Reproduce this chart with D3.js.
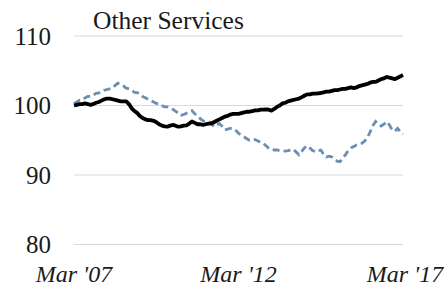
<!DOCTYPE html>
<meta charset="utf-8">
<html>
<body style="margin:0;background:#fff">

<script src="https://d3js.org/d3.v7.min.js"></script>
<script>
  // monthly index values, Mar 2007 .. Mar 2017
  var otherServices = [
    100.0, 100.1, 100.2, 100.2, 100.3, 100.2, 100.1, 100.2, 100.4, 100.5,
    100.7, 100.9, 101.0, 101.0, 100.9, 100.8, 100.7, 100.6, 100.6, 100.6,
    100.2, 99.6, 99.2, 98.9, 98.5, 98.2, 98.0, 97.9, 97.9, 97.8,
    97.6, 97.3, 97.1, 97.0, 96.95, 97.1, 97.2, 97.1, 96.95, 97.0,
    97.1, 97.15, 97.4, 97.7, 97.5, 97.3, 97.3, 97.2, 97.3, 97.4,
    97.4, 97.6, 97.8, 98.0, 98.2, 98.4, 98.5, 98.7, 98.8, 98.8,
    98.8, 98.9, 99.0, 99.1, 99.1, 99.2, 99.3, 99.3, 99.4, 99.4,
    99.45, 99.4, 99.25, 99.5, 99.8, 100.0, 100.3, 100.4, 100.6, 100.7,
    100.8, 100.9, 101.0, 101.2, 101.4, 101.6, 101.6, 101.7, 101.7, 101.75,
    101.8, 101.9, 102.0, 102.0, 102.1, 102.2, 102.2, 102.3, 102.4, 102.4,
    102.5, 102.6, 102.5, 102.6, 102.8, 102.9, 103.0, 103.1, 103.3, 103.4,
    103.4, 103.6, 103.8, 103.9, 104.1, 104.0, 103.9, 103.8, 104.0, 104.2,
    104.4
  ];
  var comparison = [
    100.3, 100.5, 100.75, 100.8, 101.1, 101.3, 101.3, 101.5, 101.75, 101.8,
    102.0, 102.2, 102.3, 102.4, 102.5, 102.9, 103.2, 103.0, 102.8, 102.5,
    102.4, 102.2, 101.9, 101.85, 101.6, 101.3, 101.1, 100.9, 100.7, 100.5,
    100.3, 100.2, 100.0, 99.8, 99.8, 99.6, 99.45, 99.2, 98.9, 98.6,
    98.7, 98.9, 99.1, 99.25, 98.8, 98.5, 98.1, 97.8, 97.7, 97.7,
    97.5, 96.95, 97.2, 97.4, 97.0, 96.5, 96.6, 96.7, 96.7, 96.4,
    96.0, 95.7, 95.5, 95.2, 95.0, 95.1, 95.1, 94.9, 94.7, 94.55,
    94.2, 93.8, 93.7, 93.6, 93.6, 93.5, 93.5, 93.45, 93.5, 93.6,
    93.7, 93.3, 92.9, 93.4, 93.9, 94.2, 93.9, 93.5, 93.35, 93.5,
    93.6, 93.0, 92.6, 92.7, 92.6, 92.3, 92.0, 91.9, 92.4, 92.9,
    93.5, 93.9, 94.1, 94.3, 94.4, 94.55, 94.9, 95.4, 96.2, 97.1,
    97.7, 97.3, 97.05, 97.3, 97.7, 97.2, 96.5, 96.3, 96.7, 96.2,
    95.9
  ];
  var months = d3.timeMonth.range(new Date(2007, 2, 1), new Date(2017, 3, 1));
  var yTicks = [80, 90, 100, 110];
  var xTicks = [new Date(2007, 2, 1), new Date(2012, 2, 1), new Date(2017, 2, 1)];
  var xTickLabels = ["Mar '07", "Mar '12", "Mar '17"];
  var title = "Other Services";

  var width = 447, height = 288;

  var svg = d3.select("body").append("svg")
    .attr("width", width)
    .attr("height", height)
    .style("display", "block");

  var x = d3.scaleTime()
    .domain([months[0], months[months.length - 1]])
    .range([74, 403]);

  var y = d3.scaleLinear()
    .domain([80, 110])
    .range([244.5, 36]);

  // gridlines
  svg.append("g").selectAll("line")
    .data(yTicks)
    .enter().append("line")
      .attr("x1", 74)
      .attr("x2", 403)
      .attr("y1", function(d) { return y(d); })
      .attr("y2", function(d) { return y(d); })
      .attr("stroke", "#d9d9d9")
      .attr("stroke-width", 1);

  // y labels
  svg.append("g").selectAll("text")
    .data(yTicks)
    .enter().append("text")
      .attr("x", 51)
      .attr("y", function(d) { return y(d); })
      .attr("dy", "0.34em")
      .attr("text-anchor", "end")
      .style("font-family", "Liberation Serif")
      .style("font-size", "25px")
      .style("fill", "#1a1a1a")
      .text(function(d) { return d; });

  // x labels
  svg.append("g").selectAll("text")
    .data(xTicks)
    .enter().append("text")
      .attr("x", function(d, i) { return x(d) + (i == 2 ? 2 : 0); })
      .attr("y", 282)
      .attr("text-anchor", "middle")
      .style("font-family", "Liberation Serif")
      .style("font-size", "24px")
      .style("font-style", "italic")
      .style("fill", "#1a1a1a")
      .text(function(d, i) { return xTickLabels[i]; });

  svg.append("text")
    .attr("x", 93)
    .attr("y", 29)
    .style("font-family", "Liberation Serif")
    .style("font-size", "25.5px")
    .style("fill", "#1a1a1a")
    .text(title);

  var line = d3.line()
    .x(function(d, i) { return x(months[i]); })
    .y(function(d) { return y(d); });

  // dashed comparison series
  svg.append("path")
    .datum(comparison)
    .attr("d", line)
    .attr("fill", "none")
    .attr("stroke", "#6a8fb4")
    .attr("stroke-width", 2.8)
    .attr("stroke-dasharray", "7,4");

  svg.append("path")
    .datum(otherServices)
    .attr("d", line)
    .attr("fill", "none")
    .attr("stroke", "#000")
    .attr("stroke-width", 3.8)
    .attr("stroke-linejoin", "round");
</script>
</body>
</html>
